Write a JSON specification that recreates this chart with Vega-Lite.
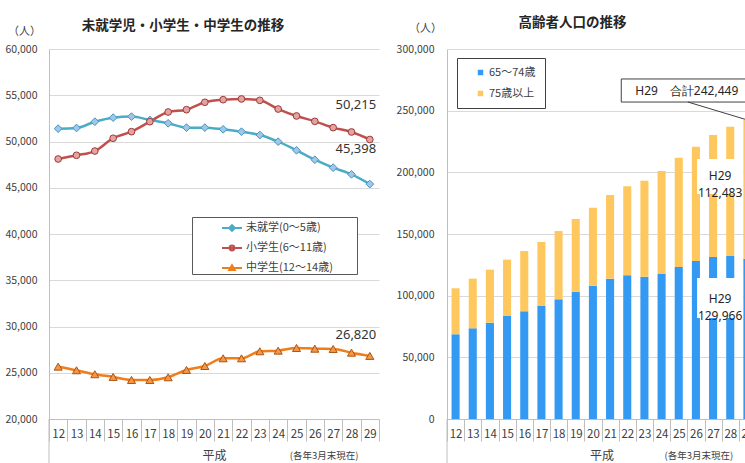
{
  "$schema": "https://vega.github.io/schema/vega-lite/v6.json",
  "background": "white",
  "padding": {"left": 4, "top": 15, "right": 0, "bottom": 0},
  "spacing": 16,
  "resolve": {"scale": {"x": "independent", "y": "independent", "color": "independent"}, "legend": {"color": "independent"}},
  "config": {
    "font": "Noto Sans CJK JP",
    "view": {"stroke": null},
    "axis": {"labelFont": "Noto Sans CJK JP", "labelColor": "#404040", "labelFontSize": 11, "gridColor": "#D9D9D9", "domainColor": "#BFBFBF", "tickColor": "#BFBFBF", "titleFont": "Noto Sans CJK JP", "titleFontWeight": "normal", "titleColor": "#404040"},
    "title": {"font": "Noto Sans CJK JP", "fontSize": 13.5, "fontWeight": "bold", "color": "#262626", "anchor": "middle"}
  },
  "datasets": {
    "kids": [
      {"year": "12", "series": "未就学(0〜5歳)", "value": 51390},
      {"year": "13", "series": "未就学(0〜5歳)", "value": 51460},
      {"year": "14", "series": "未就学(0〜5歳)", "value": 52140},
      {"year": "15", "series": "未就学(0〜5歳)", "value": 52580},
      {"year": "16", "series": "未就学(0〜5歳)", "value": 52690},
      {"year": "17", "series": "未就学(0〜5歳)", "value": 52330},
      {"year": "18", "series": "未就学(0〜5歳)", "value": 51970},
      {"year": "19", "series": "未就学(0〜5歳)", "value": 51500},
      {"year": "20", "series": "未就学(0〜5歳)", "value": 51500},
      {"year": "21", "series": "未就学(0〜5歳)", "value": 51320},
      {"year": "22", "series": "未就学(0〜5歳)", "value": 51060},
      {"year": "23", "series": "未就学(0〜5歳)", "value": 50700},
      {"year": "24", "series": "未就学(0〜5歳)", "value": 49980},
      {"year": "25", "series": "未就学(0〜5歳)", "value": 49050},
      {"year": "26", "series": "未就学(0〜5歳)", "value": 48030},
      {"year": "27", "series": "未就学(0〜5歳)", "value": 47170},
      {"year": "28", "series": "未就学(0〜5歳)", "value": 46450},
      {"year": "29", "series": "未就学(0〜5歳)", "value": 45398},
      {"year": "12", "series": "小学生(6〜11歳)", "value": 48110},
      {"year": "13", "series": "小学生(6〜11歳)", "value": 48510},
      {"year": "14", "series": "小学生(6〜11歳)", "value": 48970},
      {"year": "15", "series": "小学生(6〜11歳)", "value": 50350},
      {"year": "16", "series": "小学生(6〜11歳)", "value": 51060},
      {"year": "17", "series": "小学生(6〜11歳)", "value": 52140},
      {"year": "18", "series": "小学生(6〜11歳)", "value": 53190},
      {"year": "19", "series": "小学生(6〜11歳)", "value": 53440},
      {"year": "20", "series": "小学生(6〜11歳)", "value": 54240},
      {"year": "21", "series": "小学生(6〜11歳)", "value": 54520},
      {"year": "22", "series": "小学生(6〜11歳)", "value": 54600},
      {"year": "23", "series": "小学生(6〜11歳)", "value": 54450},
      {"year": "24", "series": "小学生(6〜11歳)", "value": 53510},
      {"year": "25", "series": "小学生(6〜11歳)", "value": 52760},
      {"year": "26", "series": "小学生(6〜11歳)", "value": 52180},
      {"year": "27", "series": "小学生(6〜11歳)", "value": 51500},
      {"year": "28", "series": "小学生(6〜11歳)", "value": 51030},
      {"year": "29", "series": "小学生(6〜11歳)", "value": 50215},
      {"year": "12", "series": "中学生(12〜14歳)", "value": 25660},
      {"year": "13", "series": "中学生(12〜14歳)", "value": 25270},
      {"year": "14", "series": "中学生(12〜14歳)", "value": 24840},
      {"year": "15", "series": "中学生(12〜14歳)", "value": 24550},
      {"year": "16", "series": "中学生(12〜14歳)", "value": 24220},
      {"year": "17", "series": "中学生(12〜14歳)", "value": 24220},
      {"year": "18", "series": "中学生(12〜14歳)", "value": 24510},
      {"year": "19", "series": "中学生(12〜14歳)", "value": 25300},
      {"year": "20", "series": "中学生(12〜14歳)", "value": 25730},
      {"year": "21", "series": "中学生(12〜14歳)", "value": 26560},
      {"year": "22", "series": "中学生(12〜14歳)", "value": 26560},
      {"year": "23", "series": "中学生(12〜14歳)", "value": 27320},
      {"year": "24", "series": "中学生(12〜14歳)", "value": 27390},
      {"year": "25", "series": "中学生(12〜14歳)", "value": 27680},
      {"year": "26", "series": "中学生(12〜14歳)", "value": 27600},
      {"year": "27", "series": "中学生(12〜14歳)", "value": 27570},
      {"year": "28", "series": "中学生(12〜14歳)", "value": 27170},
      {"year": "29", "series": "中学生(12〜14歳)", "value": 26820}
    ],
    "elderly": [
      {"year": "12", "age": "65〜74歳", "value": 68700}, {"year": "12", "age": "75歳以上", "value": 37300},
      {"year": "13", "age": "65〜74歳", "value": 73500}, {"year": "13", "age": "75歳以上", "value": 40300},
      {"year": "14", "age": "65〜74歳", "value": 78100}, {"year": "14", "age": "75歳以上", "value": 43000},
      {"year": "15", "age": "65〜74歳", "value": 83500}, {"year": "15", "age": "75歳以上", "value": 45700},
      {"year": "16", "age": "65〜74歳", "value": 87300}, {"year": "16", "age": "75歳以上", "value": 48900},
      {"year": "17", "age": "65〜74歳", "value": 91600}, {"year": "17", "age": "75歳以上", "value": 51900},
      {"year": "18", "age": "65〜74歳", "value": 97000}, {"year": "18", "age": "75歳以上", "value": 55400},
      {"year": "19", "age": "65〜74歳", "value": 103200}, {"year": "19", "age": "75歳以上", "value": 59000},
      {"year": "20", "age": "65〜74歳", "value": 108100}, {"year": "20", "age": "75歳以上", "value": 63200},
      {"year": "21", "age": "65〜74歳", "value": 113800}, {"year": "21", "age": "75歳以上", "value": 67800},
      {"year": "22", "age": "65〜74歳", "value": 116500}, {"year": "22", "age": "75歳以上", "value": 72200},
      {"year": "23", "age": "65〜74歳", "value": 115400}, {"year": "23", "age": "75歳以上", "value": 77800},
      {"year": "24", "age": "65〜74歳", "value": 117600}, {"year": "24", "age": "75歳以上", "value": 83500},
      {"year": "25", "age": "65〜74歳", "value": 123200}, {"year": "25", "age": "75歳以上", "value": 88700},
      {"year": "26", "age": "65〜74歳", "value": 128100}, {"year": "26", "age": "75歳以上", "value": 92700},
      {"year": "27", "age": "65〜74歳", "value": 131300}, {"year": "27", "age": "75歳以上", "value": 99000},
      {"year": "28", "age": "65〜74歳", "value": 132200}, {"year": "28", "age": "75歳以上", "value": 104800},
      {"year": "29", "age": "65〜74歳", "value": 129966}, {"year": "29", "age": "75歳以上", "value": 112483}
    ]
  },
  "hconcat": [
    {
      "width": 330,
      "height": 370,
      "title": {"text": "未就学児・小学生・中学生の推移", "dx": -31, "offset": -7},
      "layer": [
        {
          "data": {"name": "kids"},
          "mark": {"type": "line", "interpolate": "monotone", "strokeWidth": 2.5},
          "encoding": {
            "x": {"field": "year", "type": "ordinal", "scale": {"paddingInner": 0, "paddingOuter": 0},
              "axis": {"title": "平成", "titleFontSize": 12, "titleY": 36, "titleBaseline": "middle", "labelAngle": 0, "tickBand": "extent", "tickSize": 22, "labelPadding": -12.5, "labelFontSize": 11.5, "domainColor": "#BFBFBF"}},
            "y": {"field": "value", "type": "quantitative", "scale": {"domain": [20000, 60000]},
              "axis": {"values": [20000, 25000, 30000, 35000, 40000, 45000, 50000, 55000, 60000], "labelExpr": "format(datum.value, ',')", "labelFontSize": 10.5, "ticks": false, "labelPadding": 12, "title": "（人）", "titleAngle": 0, "titleX": -25, "titleY": -18, "titleAlign": "center", "titleBaseline": "middle", "titleFontSize": 11}},
            "color": {"field": "series", "type": "nominal",
              "scale": {"domain": ["未就学(0〜5歳)", "小学生(6〜11歳)", "中学生(12〜14歳)"], "range": ["#4BACC6", "#C0504D", "#F07D1A"]},
              "legend": {"orient": "none", "legendX": 143, "legendY": 168, "title": "MM", "titleOrient": "right", "titleFontSize": 11, "titleColor": "white", "titlePadding": 5, "padding": 0, "strokeColor": "#595959", "fillColor": "white",
                "symbolType": "stroke", "symbolSize": 400, "symbolStrokeWidth": 2, "symbolOffset": 29, "labelOffset": 3, "labelFontSize": 11, "labelColor": "#404040", "rowPadding": 2,
                "encode": {"symbols": {"update": {
                  "shape": {"signal": "datum.value == '未就学(0〜5歳)' ? 'M-1,0H1M-0.28,0L0,-0.28L0.28,0L0,0.28Z' : datum.value == '小学生(6〜11歳)' ? 'M-1,0H1M0.24,0A0.24,0.24 0 1 1 -0.24,0A0.24,0.24 0 1 1 0.24,0Z' : 'M-1,0H1M0,-0.28L0.28,0.2L-0.28,0.2Z'"},
                  "fill": {"signal": "datum.value == '未就学(0〜5歳)' ? '#9DC8EA' : datum.value == '小学生(6〜11歳)' ? '#E3A3A1' : '#F79646'"}
                }}}
              }}
          }
        },
        {
          "data": {"name": "kids"},
          "transform": [{"filter": "datum.series == '未就学(0〜5歳)'"}],
          "mark": {"type": "point", "shape": "diamond", "size": 60, "strokeWidth": 1, "opacity": 1, "fill": "#9DC8EA", "stroke": "#4A93C0"},
          "encoding": {"x": {"field": "year", "type": "ordinal"}, "y": {"field": "value", "type": "quantitative"}}
        },
        {
          "data": {"name": "kids"},
          "transform": [{"filter": "datum.series == '小学生(6〜11歳)'"}],
          "mark": {"type": "point", "shape": "circle", "size": 45, "strokeWidth": 1, "opacity": 1, "fill": "#E3A3A1", "stroke": "#9E3B38"},
          "encoding": {"x": {"field": "year", "type": "ordinal"}, "y": {"field": "value", "type": "quantitative"}}
        },
        {
          "data": {"name": "kids"},
          "transform": [{"filter": "datum.series == '中学生(12〜14歳)'"}],
          "mark": {"type": "point", "shape": "triangle-up", "size": 65, "strokeWidth": 1, "opacity": 1, "fill": "#F79646", "stroke": "#A85514"},
          "encoding": {"x": {"field": "year", "type": "ordinal"}, "y": {"field": "value", "type": "quantitative"}}
        },
        {
          "data": {"values": [{}]},
          "mark": {"type": "text", "font": "Noto Sans", "fontSize": 13, "color": "#333333", "dx": -14, "dy": -35},
          "encoding": {"x": {"datum": "29", "type": "ordinal"}, "y": {"datum": 50215, "type": "quantitative"}, "text": {"value": "50,215"}}
        },
        {
          "data": {"values": [{}]},
          "mark": {"type": "text", "font": "Noto Sans", "fontSize": 13, "color": "#333333", "dx": -14, "dy": -35},
          "encoding": {"x": {"datum": "29", "type": "ordinal"}, "y": {"datum": 45398, "type": "quantitative"}, "text": {"value": "45,398"}}
        },
        {
          "data": {"values": [{}]},
          "mark": {"type": "text", "font": "Noto Sans", "fontSize": 13, "color": "#333333", "dx": -14, "dy": -21},
          "encoding": {"x": {"datum": "29", "type": "ordinal"}, "y": {"datum": 26820, "type": "quantitative"}, "text": {"value": "26,820"}}
        },
        {
          "data": {"values": [{}]},
          "mark": {"type": "text", "fontSize": 9.5, "color": "#404040", "dx": -9, "dy": 37},
          "encoding": {"x": {"datum": "27", "type": "ordinal"}, "y": {"datum": 20000, "type": "quantitative"}, "text": {"value": "(各年3月末現在)"}}
        },
        {
          "data": {"values": [{}]},
          "mark": {"type": "rule", "color": "#BFBFBF", "strokeWidth": 1},
          "encoding": {"x": {"datum": "12", "type": "ordinal", "bandPosition": 0}, "y": {"datum": 20000, "type": "quantitative"}, "y2": {"datum": 15000}}
        }
      ]
    },
    {
      "width": 309,
      "height": 370,
      "title": {"text": "高齢者人口の推移", "dx": -29, "offset": -7},
      "layer": [
        {
          "data": {"name": "elderly"},
          "mark": {"type": "bar", "width": {"band": 0.47}},
          "encoding": {
            "x": {"field": "year", "type": "ordinal", "scale": {"paddingInner": 0, "paddingOuter": 0},
              "axis": {"title": "平成", "titleFontSize": 12, "titleY": 36, "titleBaseline": "middle", "labelAngle": 0, "tickBand": "extent", "tickSize": 22, "labelPadding": -12.5, "labelFontSize": 11.5}},
            "y": {"field": "value", "type": "quantitative", "stack": "zero", "scale": {"domain": [0, 300000]},
              "axis": {"values": [0, 50000, 100000, 150000, 200000, 250000, 300000], "labelExpr": "format(datum.value, ',')", "labelFontSize": 10.5, "ticks": false, "labelPadding": 13, "title": "（人）", "titleAngle": 0, "titleX": -22, "titleY": -21, "titleAlign": "center", "titleBaseline": "middle", "titleFontSize": 11}},
            "color": {"field": "age", "type": "nominal", "scale": {"domain": ["65〜74歳", "75歳以上"], "range": ["#3399F3", "#FFC85E"]},
              "legend": {"orient": "none", "legendX": 10, "legendY": 9, "title": null, "padding": 9, "strokeColor": "#404040", "fillColor": "white", "symbolType": "square", "symbolSize": 30, "symbolOffset": 9, "labelOffset": 3, "labelFontSize": 11, "labelColor": "#404040", "rowPadding": 9}},
            "order": {"field": "age", "sort": "ascending"}
          }
        },
        {
          "data": {"values": [{}]},
          "mark": {"type": "bar", "width": 46, "xOffset": 7, "fill": "white"},
          "encoding": {"x": {"datum": "27", "type": "ordinal"}, "y": {"datum": 210800, "type": "quantitative"}, "y2": {"datum": 182400}}
        },
        {
          "data": {"values": [{}]},
          "mark": {"type": "bar", "width": 46, "xOffset": 7, "fill": "white"},
          "encoding": {"x": {"datum": "27", "type": "ordinal"}, "y": {"datum": 114300, "type": "quantitative"}, "y2": {"datum": 81900}}
        },
        {
          "data": {"values": [{}]},
          "mark": {"type": "text", "font": "Noto Sans", "fontSize": 12, "color": "#262626", "xOffset": 7, "lineBreak": "\n", "lineHeight": 17},
          "encoding": {"x": {"datum": "27", "type": "ordinal"}, "y": {"datum": 197400, "type": "quantitative"}, "text": {"value": "H29\n112,483"}}
        },
        {
          "data": {"values": [{}]},
          "mark": {"type": "text", "font": "Noto Sans", "fontSize": 12, "color": "#262626", "xOffset": 7, "lineBreak": "\n", "lineHeight": 17},
          "encoding": {"x": {"datum": "27", "type": "ordinal"}, "y": {"datum": 96900, "type": "quantitative"}, "text": {"value": "H29\n129,966"}}
        },
        {
          "data": {"values": [{}]},
          "mark": {"type": "bar", "width": 131, "xOffset": 8, "fill": "white", "stroke": "#404040", "strokeWidth": 1},
          "encoding": {"x": {"datum": "25", "type": "ordinal"}, "y": {"datum": 275700, "type": "quantitative"}, "y2": {"datum": 257000}}
        },
        {
          "data": {"values": [{}]},
          "mark": {"type": "rule", "color": "#404040", "strokeWidth": 1, "xOffset": -8},
          "encoding": {"x": {"datum": "26", "type": "ordinal"}, "x2": {"datum": "29"}, "y": {"datum": 257000, "type": "quantitative"}, "y2": {"datum": 242449}}
        },
        {
          "data": {"values": [{}]},
          "mark": {"type": "text", "font": "Noto Sans", "fontSize": 12, "color": "#262626", "xOffset": 8},
          "encoding": {"x": {"datum": "25", "type": "ordinal"}, "y": {"datum": 265900, "type": "quantitative"}, "text": {"value": "H29　合計242,449"}}
        },
        {
          "data": {"values": [{}]},
          "mark": {"type": "text", "fontSize": 9.5, "color": "#404040", "dx": 3, "dy": 37},
          "encoding": {"x": {"datum": "26", "type": "ordinal"}, "y": {"datum": 0, "type": "quantitative"}, "text": {"value": "(各年3月末現在)"}}
        },
        {
          "data": {"values": [{}]},
          "mark": {"type": "rule", "color": "#BFBFBF", "strokeWidth": 1},
          "encoding": {"x": {"datum": "12", "type": "ordinal", "bandPosition": 0}, "y": {"datum": 0, "type": "quantitative"}, "y2": {"datum": -36500}}
        }
      ]
    }
  ]
}
